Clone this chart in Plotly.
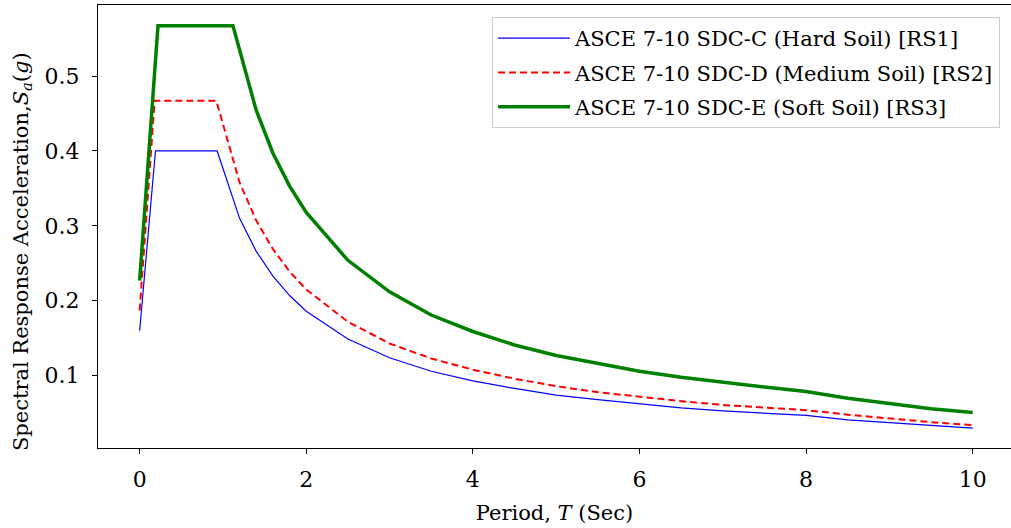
import plotly.graph_objects as go

# Periods (s) and spectral accelerations (g)
T_rs1 = [0.0, 0.19, 0.93, 1.2, 1.4, 1.6, 1.8, 2.0, 2.5, 3.0, 3.5, 4.0, 4.5, 5.0, 5.5, 6.0, 6.5, 7.0, 7.5, 8.0, 8.5, 9.0, 9.5, 10.0]
sa_rs1 = [0.160, 0.400, 0.400, 0.310, 0.266, 0.233, 0.207, 0.186, 0.149, 0.124, 0.106, 0.093, 0.083, 0.074, 0.068, 0.062, 0.057, 0.053, 0.050, 0.047, 0.041, 0.037, 0.033, 0.030]

T_rs2 = [0.0, 0.18, 0.92, 1.2, 1.4, 1.6, 1.8, 2.0, 2.5, 3.0, 3.5, 4.0, 4.5, 5.0, 5.5, 6.0, 6.5, 7.0, 7.5, 8.0, 8.5, 9.0, 9.5, 10.0]
sa_rs2 = [0.187, 0.467, 0.467, 0.358, 0.307, 0.269, 0.239, 0.215, 0.172, 0.143, 0.123, 0.108, 0.096, 0.086, 0.078, 0.072, 0.066, 0.061, 0.057, 0.054, 0.048, 0.043, 0.038, 0.034]

T_rs3 = [0.0, 0.22, 1.12, 1.4, 1.6, 1.8, 2.0, 2.5, 3.0, 3.5, 4.0, 4.5, 5.0, 5.5, 6.0, 6.5, 7.0, 7.5, 8.0, 8.5, 9.0, 9.5, 10.0]
sa_rs3 = [0.227, 0.567, 0.567, 0.454, 0.397, 0.353, 0.318, 0.254, 0.212, 0.181, 0.159, 0.141, 0.127, 0.116, 0.106, 0.098, 0.091, 0.085, 0.079, 0.070, 0.063, 0.056, 0.051]

names = ["ASCE 7-10 SDC-C (Hard Soil) [RS1]",
         "ASCE 7-10 SDC-D (Medium Soil) [RS2]",
         "ASCE 7-10 SDC-E (Soft Soil) [RS3]"]

x_ticks = [0, 2, 4, 6, 8, 10]
y_ticks = [0.1, 0.2, 0.3, 0.4, 0.5]
y_tick_text = ["0.1", "0.2", "0.3", "0.4", "0.5"]

x_title = "Period, <i>T</i> (Sec)"
y_title = "Spectral Response Acceleration,<i>S</i><sub><i>a</i></sub>(<i>g</i>)"

FONT = "DejaVu Serif"

fig = go.Figure()
fig.add_trace(go.Scatter(x=T_rs1, y=sa_rs1, mode="lines", name=names[0], legendgroup="g1",
                         line=dict(color="#0000ff", width=1.2)))
fig.add_trace(go.Scatter(x=T_rs2, y=sa_rs2, mode="lines", name=names[1], legendgroup="g2",
                         line=dict(color="#ff0000", width=2, dash="7px,4px")))
fig.add_trace(go.Scatter(x=T_rs3, y=sa_rs3, mode="lines", name=names[2], legendgroup="g3",
                         line=dict(color="#008000", width=3.5)))

fig.update_layout(
    width=1011, height=528,
    margin=dict(l=98, r=0, t=5, b=80, autoexpand=False),
    paper_bgcolor="white", plot_bgcolor="white",
    font=dict(family=FONT, color="black", size=20),
    legend=dict(x=0.988, y=0.973, xanchor="right", yanchor="top",
                bgcolor="white", bordercolor="#cccccc", borderwidth=1,
                tracegroupgap=4, itemwidth=72,
                font=dict(family=FONT, size=21)),
    xaxis=dict(range=[-0.5, 10.46], tickvals=x_ticks, ticks="outside", ticklen=5,
               tickwidth=1, tickcolor="black", showline=True, linecolor="black",
               linewidth=1.3, mirror=True, showgrid=False, zeroline=False,
               automargin=False,
               tickfont=dict(size=22), ticklabelstandoff=6,
               title=dict(text=x_title, font=dict(size=21), standoff=14)),
    yaxis=dict(range=[0.0035, 0.5948], tickvals=y_ticks, ticktext=y_tick_text,
               ticks="outside", ticklen=5, tickwidth=1, tickcolor="black",
               showline=True, linecolor="black", linewidth=1.3, mirror=False,
               showgrid=False, zeroline=False, automargin=False,
               tickfont=dict(size=22), ticklabelstandoff=8),
    annotations=[dict(text=y_title, textangle=-90, xref="paper", yref="paper",
                      x=-0.084, y=0.443, xanchor="center", yanchor="middle",
                      showarrow=False, font=dict(family=FONT, size=21))],
)

fig.write_html("out.html", config={"displayModeBar": False},
               post_script="document.body.style.margin='0';")
